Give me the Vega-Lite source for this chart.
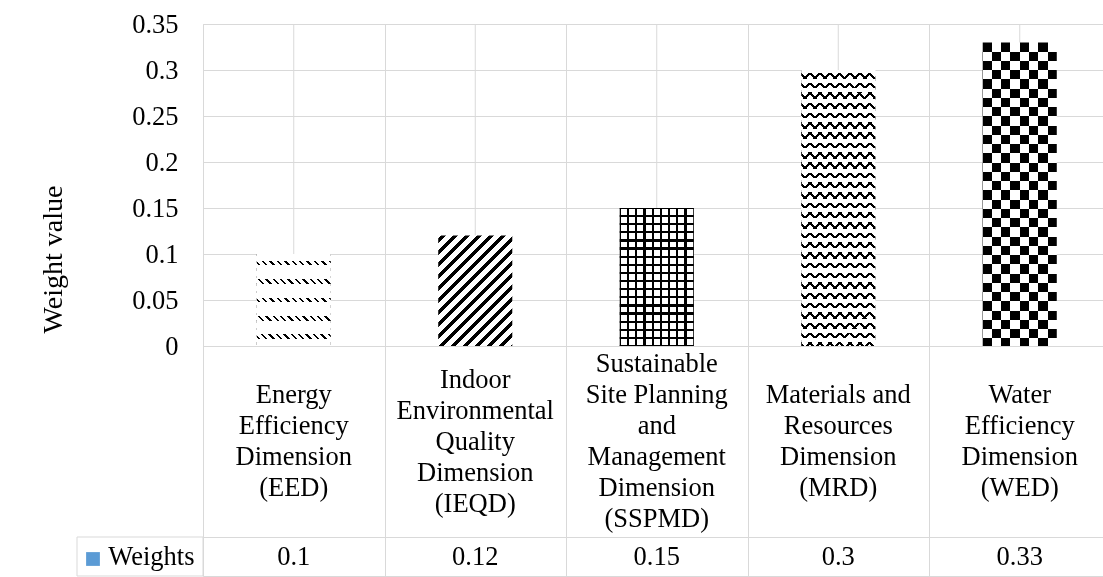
{
  "$schema": "https://vega.github.io/schema/vega-lite/v6.json",
  "background": "white",
  "padding": {"left": 39, "top": 10, "right": 0, "bottom": 2},
  "datasets": {
    "dims": [
      {"code": "EED", "label": "Energy\nEfficiency\nDimension\n(EED)", "weight": 0.1, "series": "Weights"},
      {"code": "IEQD", "label": "Indoor\nEnvironmental\nQuality\nDimension\n(IEQD)", "weight": 0.12, "series": "Weights"},
      {"code": "SSPMD", "label": "Sustainable\nSite Planning\nand\nManagement\nDimension\n(SSPMD)", "weight": 0.15, "series": "Weights"},
      {"code": "MRD", "label": "Materials and\nResources\nDimension\n(MRD)", "weight": 0.3, "series": "Weights"},
      {"code": "WED", "label": "Water\nEfficiency\nDimension\n(WED)", "weight": 0.33, "series": "Weights"}
    ],
    "legend": [{"series": "Weights"}]
  },
  "columns": 2,
  "spacing": 0,
  "bounds": "flush",
  "concat": [
    {
      "data": {"name": "legend"},
      "width": 126, "height": 5,
      "view": {"stroke": null},
      "mark": {"type": "point", "opacity": 0},
      "encoding": {}
    },
    {
      "data": {"name": "dims"},
      "width": 907.5, "height": 322,
      "encoding": {
        "x": {"field": "code", "type": "nominal", "sort": null,
          "scale": {"paddingInner": 0, "paddingOuter": 0},
          "axis": {"title": null, "labels": false, "ticks": false, "domain": true, "grid": true, "tickBand": "extent"}}
      },
      "layer": [
        {"mark": {"type": "rule", "color": "#d9d9d9", "strokeWidth": 1}, "encoding": {}},
        {
          "transform": [{"filter": "datum.code === 'EED'"}],
          "mark": {"type": "bar", "width": {"band": 0.408}, "stroke": null,
            "fill": {"gradient": "linear", "x1": 0, "y1": 1, "x2": 1, "y2": -0.2432, "stops": [
              {"offset": 0.0050, "color": "#fff"}, {"offset": 0.0050, "color": "#000"}, {"offset": 0.0175, "color": "#000"}, {"offset": 0.0175, "color": "#fff"},
              {"offset": 0.0443, "color": "#fff"}, {"offset": 0.0443, "color": "#000"}, {"offset": 0.0568, "color": "#000"}, {"offset": 0.0568, "color": "#fff"},
              {"offset": 0.0836, "color": "#fff"}, {"offset": 0.0836, "color": "#000"}, {"offset": 0.0961, "color": "#000"}, {"offset": 0.0961, "color": "#fff"},
              {"offset": 0.1228, "color": "#fff"}, {"offset": 0.1228, "color": "#000"}, {"offset": 0.1353, "color": "#000"}, {"offset": 0.1353, "color": "#fff"},
              {"offset": 0.1621, "color": "#fff"}, {"offset": 0.1621, "color": "#000"}, {"offset": 0.1746, "color": "#000"}, {"offset": 0.1746, "color": "#fff"},
              {"offset": 0.2014, "color": "#fff"}, {"offset": 0.2014, "color": "#000"}, {"offset": 0.2139, "color": "#000"}, {"offset": 0.2139, "color": "#fff"},
              {"offset": 0.2407, "color": "#fff"}, {"offset": 0.2407, "color": "#000"}, {"offset": 0.2532, "color": "#000"}, {"offset": 0.2532, "color": "#fff"},
              {"offset": 0.2800, "color": "#fff"}, {"offset": 0.2800, "color": "#000"}, {"offset": 0.2925, "color": "#000"}, {"offset": 0.2925, "color": "#fff"},
              {"offset": 0.3192, "color": "#fff"}, {"offset": 0.3192, "color": "#000"}, {"offset": 0.3317, "color": "#000"}, {"offset": 0.3317, "color": "#fff"},
              {"offset": 0.3585, "color": "#fff"}, {"offset": 0.3585, "color": "#000"}, {"offset": 0.3710, "color": "#000"}, {"offset": 0.3710, "color": "#fff"},
              {"offset": 0.3978, "color": "#fff"}, {"offset": 0.3978, "color": "#000"}, {"offset": 0.4103, "color": "#000"}, {"offset": 0.4103, "color": "#fff"},
              {"offset": 0.4371, "color": "#fff"}, {"offset": 0.4371, "color": "#000"}, {"offset": 0.4496, "color": "#000"}, {"offset": 0.4496, "color": "#fff"},
              {"offset": 0.4764, "color": "#fff"}, {"offset": 0.4764, "color": "#000"}, {"offset": 0.4889, "color": "#000"}, {"offset": 0.4889, "color": "#fff"},
              {"offset": 0.5156, "color": "#fff"}, {"offset": 0.5156, "color": "#000"}, {"offset": 0.5281, "color": "#000"}, {"offset": 0.5281, "color": "#fff"},
              {"offset": 0.5549, "color": "#fff"}, {"offset": 0.5549, "color": "#000"}, {"offset": 0.5674, "color": "#000"}, {"offset": 0.5674, "color": "#fff"},
              {"offset": 0.5942, "color": "#fff"}, {"offset": 0.5942, "color": "#000"}, {"offset": 0.6067, "color": "#000"}, {"offset": 0.6067, "color": "#fff"},
              {"offset": 0.6335, "color": "#fff"}, {"offset": 0.6335, "color": "#000"}, {"offset": 0.6460, "color": "#000"}, {"offset": 0.6460, "color": "#fff"},
              {"offset": 0.6728, "color": "#fff"}, {"offset": 0.6728, "color": "#000"}, {"offset": 0.6853, "color": "#000"}, {"offset": 0.6853, "color": "#fff"},
              {"offset": 0.7120, "color": "#fff"}, {"offset": 0.7120, "color": "#000"}, {"offset": 0.7245, "color": "#000"}, {"offset": 0.7245, "color": "#fff"},
              {"offset": 0.7513, "color": "#fff"}, {"offset": 0.7513, "color": "#000"}, {"offset": 0.7638, "color": "#000"}, {"offset": 0.7638, "color": "#fff"},
              {"offset": 0.7906, "color": "#fff"}, {"offset": 0.7906, "color": "#000"}, {"offset": 0.8031, "color": "#000"}, {"offset": 0.8031, "color": "#fff"},
              {"offset": 0.8299, "color": "#fff"}, {"offset": 0.8299, "color": "#000"}, {"offset": 0.8424, "color": "#000"}, {"offset": 0.8424, "color": "#fff"},
              {"offset": 0.8692, "color": "#fff"}, {"offset": 0.8692, "color": "#000"}, {"offset": 0.8817, "color": "#000"}, {"offset": 0.8817, "color": "#fff"}
            ]}},
          "encoding": {"y": {"field": "weight", "type": "quantitative", "title": "Weight value", "scale": {"domain": [0, 0.35]},
            "axis": {"values": [0, 0.05, 0.1, 0.15, 0.2, 0.25, 0.3, 0.35], "format": "~g", "grid": true, "domain": false, "ticks": false, "labelPadding": 25, "titlePadding": 64, "titleY": 235}}}
        },
        {
          "transform": [{"filter": "datum.code === 'EED'"}],
          "mark": {"type": "bar", "width": {"band": 0.408}, "stroke": null,
            "fill": {"gradient": "linear", "x1": 0, "y1": 0, "x2": 0, "y2": 1, "stops": [
              {"offset": 0.075, "color": "#fff"}, {"offset": 0.075, "color": "rgba(255,255,255,0)"}, {"offset": 0.125, "color": "rgba(255,255,255,0)"}, {"offset": 0.125, "color": "#fff"},
              {"offset": 0.275, "color": "#fff"}, {"offset": 0.275, "color": "rgba(255,255,255,0)"}, {"offset": 0.325, "color": "rgba(255,255,255,0)"}, {"offset": 0.325, "color": "#fff"},
              {"offset": 0.475, "color": "#fff"}, {"offset": 0.475, "color": "rgba(255,255,255,0)"}, {"offset": 0.525, "color": "rgba(255,255,255,0)"}, {"offset": 0.525, "color": "#fff"},
              {"offset": 0.675, "color": "#fff"}, {"offset": 0.675, "color": "rgba(255,255,255,0)"}, {"offset": 0.725, "color": "rgba(255,255,255,0)"}, {"offset": 0.725, "color": "#fff"},
              {"offset": 0.875, "color": "#fff"}, {"offset": 0.875, "color": "rgba(255,255,255,0)"}, {"offset": 0.925, "color": "rgba(255,255,255,0)"}, {"offset": 0.925, "color": "#fff"}
            ]}},
          "encoding": {"y": {"field": "weight", "type": "quantitative", "title": "Weight value", "scale": {"domain": [0, 0.35]},
            "axis": {"values": [0, 0.05, 0.1, 0.15, 0.2, 0.25, 0.3, 0.35], "format": "~g", "grid": true, "domain": false, "ticks": false, "labelPadding": 25, "titlePadding": 64, "titleY": 235}}}
        },
        {
          "transform": [{"filter": "datum.code === 'IEQD'"}],
          "mark": {"type": "bar", "width": {"band": 0.408}, "stroke": null,
            "fill": {"gradient": "linear", "x1": 0, "y1": 0, "x2": 1, "y2": 1.4919, "stops": [
              {"offset": 0.0100, "color": "#fff"}, {"offset": 0.0100, "color": "#000"}, {"offset": 0.0330, "color": "#000"}, {"offset": 0.0330, "color": "#fff"},
              {"offset": 0.0603, "color": "#fff"}, {"offset": 0.0603, "color": "#000"}, {"offset": 0.0833, "color": "#000"}, {"offset": 0.0833, "color": "#fff"},
              {"offset": 0.1105, "color": "#fff"}, {"offset": 0.1105, "color": "#000"}, {"offset": 0.1335, "color": "#000"}, {"offset": 0.1335, "color": "#fff"},
              {"offset": 0.1608, "color": "#fff"}, {"offset": 0.1608, "color": "#000"}, {"offset": 0.1838, "color": "#000"}, {"offset": 0.1838, "color": "#fff"},
              {"offset": 0.2111, "color": "#fff"}, {"offset": 0.2111, "color": "#000"}, {"offset": 0.2341, "color": "#000"}, {"offset": 0.2341, "color": "#fff"},
              {"offset": 0.2614, "color": "#fff"}, {"offset": 0.2614, "color": "#000"}, {"offset": 0.2844, "color": "#000"}, {"offset": 0.2844, "color": "#fff"},
              {"offset": 0.3116, "color": "#fff"}, {"offset": 0.3116, "color": "#000"}, {"offset": 0.3346, "color": "#000"}, {"offset": 0.3346, "color": "#fff"},
              {"offset": 0.3619, "color": "#fff"}, {"offset": 0.3619, "color": "#000"}, {"offset": 0.3849, "color": "#000"}, {"offset": 0.3849, "color": "#fff"},
              {"offset": 0.4122, "color": "#fff"}, {"offset": 0.4122, "color": "#000"}, {"offset": 0.4352, "color": "#000"}, {"offset": 0.4352, "color": "#fff"},
              {"offset": 0.4624, "color": "#fff"}, {"offset": 0.4624, "color": "#000"}, {"offset": 0.4854, "color": "#000"}, {"offset": 0.4854, "color": "#fff"},
              {"offset": 0.5127, "color": "#fff"}, {"offset": 0.5127, "color": "#000"}, {"offset": 0.5357, "color": "#000"}, {"offset": 0.5357, "color": "#fff"},
              {"offset": 0.5630, "color": "#fff"}, {"offset": 0.5630, "color": "#000"}, {"offset": 0.5860, "color": "#000"}, {"offset": 0.5860, "color": "#fff"},
              {"offset": 0.6132, "color": "#fff"}, {"offset": 0.6132, "color": "#000"}, {"offset": 0.6362, "color": "#000"}, {"offset": 0.6362, "color": "#fff"},
              {"offset": 0.6635, "color": "#fff"}, {"offset": 0.6635, "color": "#000"}, {"offset": 0.6865, "color": "#000"}, {"offset": 0.6865, "color": "#fff"},
              {"offset": 0.7138, "color": "#fff"}, {"offset": 0.7138, "color": "#000"}, {"offset": 0.7368, "color": "#000"}, {"offset": 0.7368, "color": "#fff"},
              {"offset": 0.7641, "color": "#fff"}, {"offset": 0.7641, "color": "#000"}, {"offset": 0.7871, "color": "#000"}, {"offset": 0.7871, "color": "#fff"}
            ]}},
          "encoding": {"y": {"field": "weight", "type": "quantitative", "title": "Weight value", "scale": {"domain": [0, 0.35]},
            "axis": {"values": [0, 0.05, 0.1, 0.15, 0.2, 0.25, 0.3, 0.35], "format": "~g", "grid": true, "domain": false, "ticks": false, "labelPadding": 25, "titlePadding": 64, "titleY": 235}}}
        },
        {
          "transform": [{"filter": "datum.code === 'SSPMD'"}],
          "mark": {"type": "bar", "width": {"band": 0.408}, "stroke": null,
            "fill": {"gradient": "linear", "x1": 0, "y1": 0, "x2": 1, "y2": 0, "stops": [
              {"offset": 0, "color": "#000"}, {"offset": 0.015, "color": "#000"}, {"offset": 0.015, "color": "#fff"},
              {"offset": 0.0961, "color": "#fff"}, {"offset": 0.0961, "color": "#000"}, {"offset": 0.1261, "color": "#000"}, {"offset": 0.1261, "color": "#fff"},
              {"offset": 0.2072, "color": "#fff"}, {"offset": 0.2072, "color": "#000"}, {"offset": 0.2372, "color": "#000"}, {"offset": 0.2372, "color": "#fff"},
              {"offset": 0.3183, "color": "#fff"}, {"offset": 0.3183, "color": "#000"}, {"offset": 0.3483, "color": "#000"}, {"offset": 0.3483, "color": "#fff"},
              {"offset": 0.4294, "color": "#fff"}, {"offset": 0.4294, "color": "#000"}, {"offset": 0.4594, "color": "#000"}, {"offset": 0.4594, "color": "#fff"},
              {"offset": 0.5406, "color": "#fff"}, {"offset": 0.5406, "color": "#000"}, {"offset": 0.5706, "color": "#000"}, {"offset": 0.5706, "color": "#fff"},
              {"offset": 0.6517, "color": "#fff"}, {"offset": 0.6517, "color": "#000"}, {"offset": 0.6817, "color": "#000"}, {"offset": 0.6817, "color": "#fff"},
              {"offset": 0.7628, "color": "#fff"}, {"offset": 0.7628, "color": "#000"}, {"offset": 0.7928, "color": "#000"}, {"offset": 0.7928, "color": "#fff"},
              {"offset": 0.8739, "color": "#fff"}, {"offset": 0.8739, "color": "#000"}, {"offset": 0.9039, "color": "#000"}, {"offset": 0.9039, "color": "#fff"},
              {"offset": 0.985, "color": "#fff"}, {"offset": 0.985, "color": "#000"}, {"offset": 1, "color": "#000"}
            ]}},
          "encoding": {"y": {"field": "weight", "type": "quantitative", "title": "Weight value", "scale": {"domain": [0, 0.35]},
            "axis": {"values": [0, 0.05, 0.1, 0.15, 0.2, 0.25, 0.3, 0.35], "format": "~g", "grid": true, "domain": false, "ticks": false, "labelPadding": 25, "titlePadding": 64, "titleY": 235}}}
        },
        {
          "transform": [{"filter": "datum.code === 'SSPMD'"}],
          "mark": {"type": "bar", "width": {"band": 0.408}, "stroke": null,
            "fill": {"gradient": "linear", "x1": 0, "y1": 0, "x2": 0, "y2": 1, "stops": [
              {"offset": 0, "color": "#000"}, {"offset": 0.008, "color": "#000"}, {"offset": 0.008, "color": "rgba(0,0,0,0)"},
              {"offset": 0.0508, "color": "rgba(0,0,0,0)"}, {"offset": 0.0508, "color": "#000"}, {"offset": 0.0668, "color": "#000"}, {"offset": 0.0668, "color": "rgba(0,0,0,0)"},
              {"offset": 0.1096, "color": "rgba(0,0,0,0)"}, {"offset": 0.1096, "color": "#000"}, {"offset": 0.1256, "color": "#000"}, {"offset": 0.1256, "color": "rgba(0,0,0,0)"},
              {"offset": 0.1685, "color": "rgba(0,0,0,0)"}, {"offset": 0.1685, "color": "#000"}, {"offset": 0.1845, "color": "#000"}, {"offset": 0.1845, "color": "rgba(0,0,0,0)"},
              {"offset": 0.2273, "color": "rgba(0,0,0,0)"}, {"offset": 0.2273, "color": "#000"}, {"offset": 0.2433, "color": "#000"}, {"offset": 0.2433, "color": "rgba(0,0,0,0)"},
              {"offset": 0.2861, "color": "rgba(0,0,0,0)"}, {"offset": 0.2861, "color": "#000"}, {"offset": 0.3021, "color": "#000"}, {"offset": 0.3021, "color": "rgba(0,0,0,0)"},
              {"offset": 0.3449, "color": "rgba(0,0,0,0)"}, {"offset": 0.3449, "color": "#000"}, {"offset": 0.3609, "color": "#000"}, {"offset": 0.3609, "color": "rgba(0,0,0,0)"},
              {"offset": 0.4038, "color": "rgba(0,0,0,0)"}, {"offset": 0.4038, "color": "#000"}, {"offset": 0.4198, "color": "#000"}, {"offset": 0.4198, "color": "rgba(0,0,0,0)"},
              {"offset": 0.4626, "color": "rgba(0,0,0,0)"}, {"offset": 0.4626, "color": "#000"}, {"offset": 0.4786, "color": "#000"}, {"offset": 0.4786, "color": "rgba(0,0,0,0)"},
              {"offset": 0.5214, "color": "rgba(0,0,0,0)"}, {"offset": 0.5214, "color": "#000"}, {"offset": 0.5374, "color": "#000"}, {"offset": 0.5374, "color": "rgba(0,0,0,0)"},
              {"offset": 0.5802, "color": "rgba(0,0,0,0)"}, {"offset": 0.5802, "color": "#000"}, {"offset": 0.5962, "color": "#000"}, {"offset": 0.5962, "color": "rgba(0,0,0,0)"},
              {"offset": 0.6391, "color": "rgba(0,0,0,0)"}, {"offset": 0.6391, "color": "#000"}, {"offset": 0.6551, "color": "#000"}, {"offset": 0.6551, "color": "rgba(0,0,0,0)"},
              {"offset": 0.6979, "color": "rgba(0,0,0,0)"}, {"offset": 0.6979, "color": "#000"}, {"offset": 0.7139, "color": "#000"}, {"offset": 0.7139, "color": "rgba(0,0,0,0)"},
              {"offset": 0.7567, "color": "rgba(0,0,0,0)"}, {"offset": 0.7567, "color": "#000"}, {"offset": 0.7727, "color": "#000"}, {"offset": 0.7727, "color": "rgba(0,0,0,0)"},
              {"offset": 0.8155, "color": "rgba(0,0,0,0)"}, {"offset": 0.8155, "color": "#000"}, {"offset": 0.8315, "color": "#000"}, {"offset": 0.8315, "color": "rgba(0,0,0,0)"},
              {"offset": 0.8744, "color": "rgba(0,0,0,0)"}, {"offset": 0.8744, "color": "#000"}, {"offset": 0.8904, "color": "#000"}, {"offset": 0.8904, "color": "rgba(0,0,0,0)"},
              {"offset": 0.9332, "color": "rgba(0,0,0,0)"}, {"offset": 0.9332, "color": "#000"}, {"offset": 0.9492, "color": "#000"}, {"offset": 0.9492, "color": "rgba(0,0,0,0)"},
              {"offset": 0.992, "color": "rgba(0,0,0,0)"}, {"offset": 0.992, "color": "#000"}, {"offset": 1, "color": "#000"}
            ]}},
          "encoding": {"y": {"field": "weight", "type": "quantitative", "title": "Weight value", "scale": {"domain": [0, 0.35]},
            "axis": {"values": [0, 0.05, 0.1, 0.15, 0.2, 0.25, 0.3, 0.35], "format": "~g", "grid": true, "domain": false, "ticks": false, "labelPadding": 25, "titlePadding": 64, "titleY": 235}}}
        },
        {
          "transform": [{"filter": "datum.code === 'MRD'"}],
          "mark": {"type": "bar", "width": {"band": 0.408}, "stroke": null,
            "fill": {"gradient": "linear", "x1": 0, "y1": 0, "x2": 1, "y2": 3.7272, "stops": [
              {"offset": 0, "color": "#000"}, {"offset": 0.0027, "color": "#000"}, {"offset": 0.0027, "color": "#fff"},
              {"offset": 0.0091, "color": "#fff"}, {"offset": 0.0091, "color": "#000"}, {"offset": 0.0118, "color": "#000"}, {"offset": 0.0118, "color": "#fff"},
              {"offset": 0.0181, "color": "#fff"}, {"offset": 0.0181, "color": "#000"}, {"offset": 0.0208, "color": "#000"}, {"offset": 0.0208, "color": "#fff"},
              {"offset": 0.0272, "color": "#fff"}, {"offset": 0.0272, "color": "#000"}, {"offset": 0.0299, "color": "#000"}, {"offset": 0.0299, "color": "#fff"},
              {"offset": 0.0363, "color": "#fff"}, {"offset": 0.0363, "color": "#000"}, {"offset": 0.0390, "color": "#000"}, {"offset": 0.0390, "color": "#fff"},
              {"offset": 0.0453, "color": "#fff"}, {"offset": 0.0453, "color": "#000"}, {"offset": 0.0480, "color": "#000"}, {"offset": 0.0480, "color": "#fff"},
              {"offset": 0.0544, "color": "#fff"}, {"offset": 0.0544, "color": "#000"}, {"offset": 0.0571, "color": "#000"}, {"offset": 0.0571, "color": "#fff"},
              {"offset": 0.0634, "color": "#fff"}, {"offset": 0.0634, "color": "#000"}, {"offset": 0.0661, "color": "#000"}, {"offset": 0.0661, "color": "#fff"},
              {"offset": 0.0725, "color": "#fff"}, {"offset": 0.0725, "color": "#000"}, {"offset": 0.0752, "color": "#000"}, {"offset": 0.0752, "color": "#fff"},
              {"offset": 0.0816, "color": "#fff"}, {"offset": 0.0816, "color": "#000"}, {"offset": 0.0843, "color": "#000"}, {"offset": 0.0843, "color": "#fff"},
              {"offset": 0.0906, "color": "#fff"}, {"offset": 0.0906, "color": "#000"}, {"offset": 0.0933, "color": "#000"}, {"offset": 0.0933, "color": "#fff"},
              {"offset": 0.0997, "color": "#fff"}, {"offset": 0.0997, "color": "#000"}, {"offset": 0.1024, "color": "#000"}, {"offset": 0.1024, "color": "#fff"},
              {"offset": 0.1088, "color": "#fff"}, {"offset": 0.1088, "color": "#000"}, {"offset": 0.1115, "color": "#000"}, {"offset": 0.1115, "color": "#fff"},
              {"offset": 0.1178, "color": "#fff"}, {"offset": 0.1178, "color": "#000"}, {"offset": 0.1205, "color": "#000"}, {"offset": 0.1205, "color": "#fff"},
              {"offset": 0.1269, "color": "#fff"}, {"offset": 0.1269, "color": "#000"}, {"offset": 0.1296, "color": "#000"}, {"offset": 0.1296, "color": "#fff"},
              {"offset": 0.1359, "color": "#fff"}, {"offset": 0.1359, "color": "#000"}, {"offset": 0.1386, "color": "#000"}, {"offset": 0.1386, "color": "#fff"},
              {"offset": 0.1450, "color": "#fff"}, {"offset": 0.1450, "color": "#000"}, {"offset": 0.1477, "color": "#000"}, {"offset": 0.1477, "color": "#fff"},
              {"offset": 0.1541, "color": "#fff"}, {"offset": 0.1541, "color": "#000"}, {"offset": 0.1568, "color": "#000"}, {"offset": 0.1568, "color": "#fff"},
              {"offset": 0.1631, "color": "#fff"}, {"offset": 0.1631, "color": "#000"}, {"offset": 0.1658, "color": "#000"}, {"offset": 0.1658, "color": "#fff"},
              {"offset": 0.1722, "color": "#fff"}, {"offset": 0.1722, "color": "#000"}, {"offset": 0.1749, "color": "#000"}, {"offset": 0.1749, "color": "#fff"},
              {"offset": 0.1813, "color": "#fff"}, {"offset": 0.1813, "color": "#000"}, {"offset": 0.1840, "color": "#000"}, {"offset": 0.1840, "color": "#fff"},
              {"offset": 0.1903, "color": "#fff"}, {"offset": 0.1903, "color": "#000"}, {"offset": 0.1930, "color": "#000"}, {"offset": 0.1930, "color": "#fff"},
              {"offset": 0.1994, "color": "#fff"}, {"offset": 0.1994, "color": "#000"}, {"offset": 0.2021, "color": "#000"}, {"offset": 0.2021, "color": "#fff"},
              {"offset": 0.2084, "color": "#fff"}, {"offset": 0.2084, "color": "#000"}, {"offset": 0.2111, "color": "#000"}, {"offset": 0.2111, "color": "#fff"},
              {"offset": 0.2175, "color": "#fff"}, {"offset": 0.2175, "color": "#000"}, {"offset": 0.2202, "color": "#000"}, {"offset": 0.2202, "color": "#fff"},
              {"offset": 0.2266, "color": "#fff"}, {"offset": 0.2266, "color": "#000"}, {"offset": 0.2293, "color": "#000"}, {"offset": 0.2293, "color": "#fff"},
              {"offset": 0.2356, "color": "#fff"}, {"offset": 0.2356, "color": "#000"}, {"offset": 0.2383, "color": "#000"}, {"offset": 0.2383, "color": "#fff"},
              {"offset": 0.2447, "color": "#fff"}, {"offset": 0.2447, "color": "#000"}, {"offset": 0.2474, "color": "#000"}, {"offset": 0.2474, "color": "#fff"},
              {"offset": 0.2538, "color": "#fff"}, {"offset": 0.2538, "color": "#000"}, {"offset": 0.2565, "color": "#000"}, {"offset": 0.2565, "color": "#fff"},
              {"offset": 0.2628, "color": "#fff"}, {"offset": 0.2628, "color": "#000"}, {"offset": 0.2655, "color": "#000"}, {"offset": 0.2655, "color": "#fff"},
              {"offset": 0.2719, "color": "#fff"}, {"offset": 0.2719, "color": "#000"}, {"offset": 0.2746, "color": "#000"}, {"offset": 0.2746, "color": "#fff"},
              {"offset": 0.2809, "color": "#fff"}, {"offset": 0.2809, "color": "#000"}, {"offset": 0.2836, "color": "#000"}, {"offset": 0.2836, "color": "#fff"},
              {"offset": 0.2900, "color": "#fff"}, {"offset": 0.2900, "color": "#000"}, {"offset": 0.2927, "color": "#000"}, {"offset": 0.2927, "color": "#fff"},
              {"offset": 0.2991, "color": "#fff"}, {"offset": 0.2991, "color": "#000"}, {"offset": 0.3018, "color": "#000"}, {"offset": 0.3018, "color": "#fff"},
              {"offset": 0.3081, "color": "#fff"}, {"offset": 0.3081, "color": "#000"}, {"offset": 0.3108, "color": "#000"}, {"offset": 0.3108, "color": "#fff"},
              {"offset": 0.3172, "color": "#fff"}, {"offset": 0.3172, "color": "#000"}, {"offset": 0.3199, "color": "#000"}, {"offset": 0.3199, "color": "#fff"}
            ]}},
          "encoding": {"y": {"field": "weight", "type": "quantitative", "title": "Weight value", "scale": {"domain": [0, 0.35]},
            "axis": {"values": [0, 0.05, 0.1, 0.15, 0.2, 0.25, 0.3, 0.35], "format": "~g", "grid": true, "domain": false, "ticks": false, "labelPadding": 25, "titlePadding": 64, "titleY": 235}}}
        },
        {
          "transform": [{"filter": "datum.code === 'MRD'"}],
          "mark": {"type": "bar", "width": {"band": 0.408}, "stroke": null,
            "fill": {"gradient": "linear", "x1": 0, "y1": 1, "x2": 1, "y2": -2.7272, "stops": [
              {"offset": 0, "color": "#000"}, {"offset": 0.0027, "color": "#000"}, {"offset": 0.0027, "color": "rgba(0,0,0,0)"},
              {"offset": 0.0091, "color": "rgba(0,0,0,0)"}, {"offset": 0.0091, "color": "#000"}, {"offset": 0.0118, "color": "#000"}, {"offset": 0.0118, "color": "rgba(0,0,0,0)"},
              {"offset": 0.0181, "color": "rgba(0,0,0,0)"}, {"offset": 0.0181, "color": "#000"}, {"offset": 0.0208, "color": "#000"}, {"offset": 0.0208, "color": "rgba(0,0,0,0)"},
              {"offset": 0.0272, "color": "rgba(0,0,0,0)"}, {"offset": 0.0272, "color": "#000"}, {"offset": 0.0299, "color": "#000"}, {"offset": 0.0299, "color": "rgba(0,0,0,0)"},
              {"offset": 0.0363, "color": "rgba(0,0,0,0)"}, {"offset": 0.0363, "color": "#000"}, {"offset": 0.0390, "color": "#000"}, {"offset": 0.0390, "color": "rgba(0,0,0,0)"},
              {"offset": 0.0453, "color": "rgba(0,0,0,0)"}, {"offset": 0.0453, "color": "#000"}, {"offset": 0.0480, "color": "#000"}, {"offset": 0.0480, "color": "rgba(0,0,0,0)"},
              {"offset": 0.0544, "color": "rgba(0,0,0,0)"}, {"offset": 0.0544, "color": "#000"}, {"offset": 0.0571, "color": "#000"}, {"offset": 0.0571, "color": "rgba(0,0,0,0)"},
              {"offset": 0.0634, "color": "rgba(0,0,0,0)"}, {"offset": 0.0634, "color": "#000"}, {"offset": 0.0661, "color": "#000"}, {"offset": 0.0661, "color": "rgba(0,0,0,0)"},
              {"offset": 0.0725, "color": "rgba(0,0,0,0)"}, {"offset": 0.0725, "color": "#000"}, {"offset": 0.0752, "color": "#000"}, {"offset": 0.0752, "color": "rgba(0,0,0,0)"},
              {"offset": 0.0816, "color": "rgba(0,0,0,0)"}, {"offset": 0.0816, "color": "#000"}, {"offset": 0.0843, "color": "#000"}, {"offset": 0.0843, "color": "rgba(0,0,0,0)"},
              {"offset": 0.0906, "color": "rgba(0,0,0,0)"}, {"offset": 0.0906, "color": "#000"}, {"offset": 0.0933, "color": "#000"}, {"offset": 0.0933, "color": "rgba(0,0,0,0)"},
              {"offset": 0.0997, "color": "rgba(0,0,0,0)"}, {"offset": 0.0997, "color": "#000"}, {"offset": 0.1024, "color": "#000"}, {"offset": 0.1024, "color": "rgba(0,0,0,0)"},
              {"offset": 0.1088, "color": "rgba(0,0,0,0)"}, {"offset": 0.1088, "color": "#000"}, {"offset": 0.1115, "color": "#000"}, {"offset": 0.1115, "color": "rgba(0,0,0,0)"},
              {"offset": 0.1178, "color": "rgba(0,0,0,0)"}, {"offset": 0.1178, "color": "#000"}, {"offset": 0.1205, "color": "#000"}, {"offset": 0.1205, "color": "rgba(0,0,0,0)"},
              {"offset": 0.1269, "color": "rgba(0,0,0,0)"}, {"offset": 0.1269, "color": "#000"}, {"offset": 0.1296, "color": "#000"}, {"offset": 0.1296, "color": "rgba(0,0,0,0)"},
              {"offset": 0.1359, "color": "rgba(0,0,0,0)"}, {"offset": 0.1359, "color": "#000"}, {"offset": 0.1386, "color": "#000"}, {"offset": 0.1386, "color": "rgba(0,0,0,0)"},
              {"offset": 0.1450, "color": "rgba(0,0,0,0)"}, {"offset": 0.1450, "color": "#000"}, {"offset": 0.1477, "color": "#000"}, {"offset": 0.1477, "color": "rgba(0,0,0,0)"},
              {"offset": 0.1541, "color": "rgba(0,0,0,0)"}, {"offset": 0.1541, "color": "#000"}, {"offset": 0.1568, "color": "#000"}, {"offset": 0.1568, "color": "rgba(0,0,0,0)"},
              {"offset": 0.1631, "color": "rgba(0,0,0,0)"}, {"offset": 0.1631, "color": "#000"}, {"offset": 0.1658, "color": "#000"}, {"offset": 0.1658, "color": "rgba(0,0,0,0)"},
              {"offset": 0.1722, "color": "rgba(0,0,0,0)"}, {"offset": 0.1722, "color": "#000"}, {"offset": 0.1749, "color": "#000"}, {"offset": 0.1749, "color": "rgba(0,0,0,0)"},
              {"offset": 0.1813, "color": "rgba(0,0,0,0)"}, {"offset": 0.1813, "color": "#000"}, {"offset": 0.1840, "color": "#000"}, {"offset": 0.1840, "color": "rgba(0,0,0,0)"},
              {"offset": 0.1903, "color": "rgba(0,0,0,0)"}, {"offset": 0.1903, "color": "#000"}, {"offset": 0.1930, "color": "#000"}, {"offset": 0.1930, "color": "rgba(0,0,0,0)"},
              {"offset": 0.1994, "color": "rgba(0,0,0,0)"}, {"offset": 0.1994, "color": "#000"}, {"offset": 0.2021, "color": "#000"}, {"offset": 0.2021, "color": "rgba(0,0,0,0)"},
              {"offset": 0.2084, "color": "rgba(0,0,0,0)"}, {"offset": 0.2084, "color": "#000"}, {"offset": 0.2111, "color": "#000"}, {"offset": 0.2111, "color": "rgba(0,0,0,0)"},
              {"offset": 0.2175, "color": "rgba(0,0,0,0)"}, {"offset": 0.2175, "color": "#000"}, {"offset": 0.2202, "color": "#000"}, {"offset": 0.2202, "color": "rgba(0,0,0,0)"},
              {"offset": 0.2266, "color": "rgba(0,0,0,0)"}, {"offset": 0.2266, "color": "#000"}, {"offset": 0.2293, "color": "#000"}, {"offset": 0.2293, "color": "rgba(0,0,0,0)"},
              {"offset": 0.2356, "color": "rgba(0,0,0,0)"}, {"offset": 0.2356, "color": "#000"}, {"offset": 0.2383, "color": "#000"}, {"offset": 0.2383, "color": "rgba(0,0,0,0)"},
              {"offset": 0.2447, "color": "rgba(0,0,0,0)"}, {"offset": 0.2447, "color": "#000"}, {"offset": 0.2474, "color": "#000"}, {"offset": 0.2474, "color": "rgba(0,0,0,0)"},
              {"offset": 0.2538, "color": "rgba(0,0,0,0)"}, {"offset": 0.2538, "color": "#000"}, {"offset": 0.2565, "color": "#000"}, {"offset": 0.2565, "color": "rgba(0,0,0,0)"},
              {"offset": 0.2628, "color": "rgba(0,0,0,0)"}, {"offset": 0.2628, "color": "#000"}, {"offset": 0.2655, "color": "#000"}, {"offset": 0.2655, "color": "rgba(0,0,0,0)"},
              {"offset": 0.2719, "color": "rgba(0,0,0,0)"}, {"offset": 0.2719, "color": "#000"}, {"offset": 0.2746, "color": "#000"}, {"offset": 0.2746, "color": "rgba(0,0,0,0)"},
              {"offset": 0.2809, "color": "rgba(0,0,0,0)"}, {"offset": 0.2809, "color": "#000"}, {"offset": 0.2836, "color": "#000"}, {"offset": 0.2836, "color": "rgba(0,0,0,0)"},
              {"offset": 0.2900, "color": "rgba(0,0,0,0)"}, {"offset": 0.2900, "color": "#000"}, {"offset": 0.2927, "color": "#000"}, {"offset": 0.2927, "color": "rgba(0,0,0,0)"},
              {"offset": 0.2991, "color": "rgba(0,0,0,0)"}, {"offset": 0.2991, "color": "#000"}, {"offset": 0.3018, "color": "#000"}, {"offset": 0.3018, "color": "rgba(0,0,0,0)"},
              {"offset": 0.3081, "color": "rgba(0,0,0,0)"}, {"offset": 0.3081, "color": "#000"}, {"offset": 0.3108, "color": "#000"}, {"offset": 0.3108, "color": "rgba(0,0,0,0)"},
              {"offset": 0.3172, "color": "rgba(0,0,0,0)"}, {"offset": 0.3172, "color": "#000"}, {"offset": 0.3199, "color": "#000"}, {"offset": 0.3199, "color": "rgba(0,0,0,0)"}
            ]}},
          "encoding": {"y": {"field": "weight", "type": "quantitative", "title": "Weight value", "scale": {"domain": [0, 0.35]},
            "axis": {"values": [0, 0.05, 0.1, 0.15, 0.2, 0.25, 0.3, 0.35], "format": "~g", "grid": true, "domain": false, "ticks": false, "labelPadding": 25, "titlePadding": 64, "titleY": 235}}}
        },
        {
          "transform": [{"filter": "datum.code === 'MRD'"}],
          "mark": {"type": "bar", "width": {"band": 0.408}, "stroke": null,
            "fill": {"gradient": "linear", "x1": 0, "y1": 0, "x2": 0, "y2": 1, "stops": [
              {"offset": 0.0091, "color": "#fff"}, {"offset": 0.0091, "color": "rgba(255,255,255,0)"}, {"offset": 0.0308, "color": "rgba(255,255,255,0)"}, {"offset": 0.0308, "color": "#fff"},
              {"offset": 0.0453, "color": "#fff"}, {"offset": 0.0453, "color": "rgba(255,255,255,0)"}, {"offset": 0.0670, "color": "rgba(255,255,255,0)"}, {"offset": 0.0670, "color": "#fff"},
              {"offset": 0.0815, "color": "#fff"}, {"offset": 0.0815, "color": "rgba(255,255,255,0)"}, {"offset": 0.1033, "color": "rgba(255,255,255,0)"}, {"offset": 0.1033, "color": "#fff"},
              {"offset": 0.1178, "color": "#fff"}, {"offset": 0.1178, "color": "rgba(255,255,255,0)"}, {"offset": 0.1395, "color": "rgba(255,255,255,0)"}, {"offset": 0.1395, "color": "#fff"},
              {"offset": 0.1540, "color": "#fff"}, {"offset": 0.1540, "color": "rgba(255,255,255,0)"}, {"offset": 0.1757, "color": "rgba(255,255,255,0)"}, {"offset": 0.1757, "color": "#fff"},
              {"offset": 0.1902, "color": "#fff"}, {"offset": 0.1902, "color": "rgba(255,255,255,0)"}, {"offset": 0.2120, "color": "rgba(255,255,255,0)"}, {"offset": 0.2120, "color": "#fff"},
              {"offset": 0.2264, "color": "#fff"}, {"offset": 0.2264, "color": "rgba(255,255,255,0)"}, {"offset": 0.2482, "color": "rgba(255,255,255,0)"}, {"offset": 0.2482, "color": "#fff"},
              {"offset": 0.2627, "color": "#fff"}, {"offset": 0.2627, "color": "rgba(255,255,255,0)"}, {"offset": 0.2844, "color": "rgba(255,255,255,0)"}, {"offset": 0.2844, "color": "#fff"},
              {"offset": 0.2989, "color": "#fff"}, {"offset": 0.2989, "color": "rgba(255,255,255,0)"}, {"offset": 0.3207, "color": "rgba(255,255,255,0)"}, {"offset": 0.3207, "color": "#fff"},
              {"offset": 0.3351, "color": "#fff"}, {"offset": 0.3351, "color": "rgba(255,255,255,0)"}, {"offset": 0.3569, "color": "rgba(255,255,255,0)"}, {"offset": 0.3569, "color": "#fff"},
              {"offset": 0.3714, "color": "#fff"}, {"offset": 0.3714, "color": "rgba(255,255,255,0)"}, {"offset": 0.3931, "color": "rgba(255,255,255,0)"}, {"offset": 0.3931, "color": "#fff"},
              {"offset": 0.4076, "color": "#fff"}, {"offset": 0.4076, "color": "rgba(255,255,255,0)"}, {"offset": 0.4293, "color": "rgba(255,255,255,0)"}, {"offset": 0.4293, "color": "#fff"},
              {"offset": 0.4438, "color": "#fff"}, {"offset": 0.4438, "color": "rgba(255,255,255,0)"}, {"offset": 0.4656, "color": "rgba(255,255,255,0)"}, {"offset": 0.4656, "color": "#fff"},
              {"offset": 0.4801, "color": "#fff"}, {"offset": 0.4801, "color": "rgba(255,255,255,0)"}, {"offset": 0.5018, "color": "rgba(255,255,255,0)"}, {"offset": 0.5018, "color": "#fff"},
              {"offset": 0.5163, "color": "#fff"}, {"offset": 0.5163, "color": "rgba(255,255,255,0)"}, {"offset": 0.5380, "color": "rgba(255,255,255,0)"}, {"offset": 0.5380, "color": "#fff"},
              {"offset": 0.5525, "color": "#fff"}, {"offset": 0.5525, "color": "rgba(255,255,255,0)"}, {"offset": 0.5743, "color": "rgba(255,255,255,0)"}, {"offset": 0.5743, "color": "#fff"},
              {"offset": 0.5888, "color": "#fff"}, {"offset": 0.5888, "color": "rgba(255,255,255,0)"}, {"offset": 0.6105, "color": "rgba(255,255,255,0)"}, {"offset": 0.6105, "color": "#fff"},
              {"offset": 0.6250, "color": "#fff"}, {"offset": 0.6250, "color": "rgba(255,255,255,0)"}, {"offset": 0.6467, "color": "rgba(255,255,255,0)"}, {"offset": 0.6467, "color": "#fff"},
              {"offset": 0.6612, "color": "#fff"}, {"offset": 0.6612, "color": "rgba(255,255,255,0)"}, {"offset": 0.6830, "color": "rgba(255,255,255,0)"}, {"offset": 0.6830, "color": "#fff"},
              {"offset": 0.6975, "color": "#fff"}, {"offset": 0.6975, "color": "rgba(255,255,255,0)"}, {"offset": 0.7192, "color": "rgba(255,255,255,0)"}, {"offset": 0.7192, "color": "#fff"},
              {"offset": 0.7337, "color": "#fff"}, {"offset": 0.7337, "color": "rgba(255,255,255,0)"}, {"offset": 0.7554, "color": "rgba(255,255,255,0)"}, {"offset": 0.7554, "color": "#fff"},
              {"offset": 0.7699, "color": "#fff"}, {"offset": 0.7699, "color": "rgba(255,255,255,0)"}, {"offset": 0.7917, "color": "rgba(255,255,255,0)"}, {"offset": 0.7917, "color": "#fff"},
              {"offset": 0.8062, "color": "#fff"}, {"offset": 0.8062, "color": "rgba(255,255,255,0)"}, {"offset": 0.8279, "color": "rgba(255,255,255,0)"}, {"offset": 0.8279, "color": "#fff"},
              {"offset": 0.8424, "color": "#fff"}, {"offset": 0.8424, "color": "rgba(255,255,255,0)"}, {"offset": 0.8641, "color": "rgba(255,255,255,0)"}, {"offset": 0.8641, "color": "#fff"},
              {"offset": 0.8786, "color": "#fff"}, {"offset": 0.8786, "color": "rgba(255,255,255,0)"}, {"offset": 0.9004, "color": "rgba(255,255,255,0)"}, {"offset": 0.9004, "color": "#fff"},
              {"offset": 0.9149, "color": "#fff"}, {"offset": 0.9149, "color": "rgba(255,255,255,0)"}, {"offset": 0.9366, "color": "rgba(255,255,255,0)"}, {"offset": 0.9366, "color": "#fff"},
              {"offset": 0.9511, "color": "#fff"}, {"offset": 0.9511, "color": "rgba(255,255,255,0)"}, {"offset": 0.9728, "color": "rgba(255,255,255,0)"}, {"offset": 0.9728, "color": "#fff"},
              {"offset": 0.9873, "color": "#fff"}, {"offset": 0.9873, "color": "rgba(255,255,255,0)"}, {"offset": 1, "color": "rgba(255,255,255,0)"}
            ]}},
          "encoding": {"y": {"field": "weight", "type": "quantitative", "title": "Weight value", "scale": {"domain": [0, 0.35]},
            "axis": {"values": [0, 0.05, 0.1, 0.15, 0.2, 0.25, 0.3, 0.35], "format": "~g", "grid": true, "domain": false, "ticks": false, "labelPadding": 25, "titlePadding": 64, "titleY": 235}}}
        },
        {
          "transform": [{"filter": "datum.code === 'WED'"}],
          "mark": {"type": "bar", "width": {"band": 0.408}, "stroke": null,
            "fill": {"gradient": "linear", "x1": 0, "y1": 0, "x2": 1, "y2": 0, "stops": [
              {"offset": 0, "color": "#000"}, {"offset": 0.125, "color": "#000"}, {"offset": 0.125, "color": "#fff"},
              {"offset": 0.25, "color": "#fff"}, {"offset": 0.25, "color": "#000"}, {"offset": 0.375, "color": "#000"}, {"offset": 0.375, "color": "#fff"},
              {"offset": 0.5, "color": "#fff"}, {"offset": 0.5, "color": "#000"}, {"offset": 0.625, "color": "#000"}, {"offset": 0.625, "color": "#fff"},
              {"offset": 0.75, "color": "#fff"}, {"offset": 0.75, "color": "#000"}, {"offset": 0.875, "color": "#000"}, {"offset": 0.875, "color": "#fff"},
              {"offset": 1, "color": "#fff"}
            ]}},
          "encoding": {"y": {"field": "weight", "type": "quantitative", "title": "Weight value", "scale": {"domain": [0, 0.35]},
            "axis": {"values": [0, 0.05, 0.1, 0.15, 0.2, 0.25, 0.3, 0.35], "format": "~g", "grid": true, "domain": false, "ticks": false, "labelPadding": 25, "titlePadding": 64, "titleY": 235}}}
        },
        {
          "transform": [{"filter": "datum.code === 'WED'"}],
          "mark": {"type": "bar", "width": {"band": 0.408}, "stroke": null, "blend": "difference",
            "fill": {"gradient": "linear", "x1": 0, "y1": 0, "x2": 0, "y2": 1, "stops": [
              {"offset": 0.0305, "color": "rgba(255,255,255,0)"}, {"offset": 0.0305, "color": "#fff"}, {"offset": 0.0609, "color": "#fff"}, {"offset": 0.0609, "color": "rgba(255,255,255,0)"},
              {"offset": 0.0914, "color": "rgba(255,255,255,0)"}, {"offset": 0.0914, "color": "#fff"}, {"offset": 0.1219, "color": "#fff"}, {"offset": 0.1219, "color": "rgba(255,255,255,0)"},
              {"offset": 0.1523, "color": "rgba(255,255,255,0)"}, {"offset": 0.1523, "color": "#fff"}, {"offset": 0.1828, "color": "#fff"}, {"offset": 0.1828, "color": "rgba(255,255,255,0)"},
              {"offset": 0.2133, "color": "rgba(255,255,255,0)"}, {"offset": 0.2133, "color": "#fff"}, {"offset": 0.2438, "color": "#fff"}, {"offset": 0.2438, "color": "rgba(255,255,255,0)"},
              {"offset": 0.2742, "color": "rgba(255,255,255,0)"}, {"offset": 0.2742, "color": "#fff"}, {"offset": 0.3047, "color": "#fff"}, {"offset": 0.3047, "color": "rgba(255,255,255,0)"},
              {"offset": 0.3352, "color": "rgba(255,255,255,0)"}, {"offset": 0.3352, "color": "#fff"}, {"offset": 0.3656, "color": "#fff"}, {"offset": 0.3656, "color": "rgba(255,255,255,0)"},
              {"offset": 0.3961, "color": "rgba(255,255,255,0)"}, {"offset": 0.3961, "color": "#fff"}, {"offset": 0.4266, "color": "#fff"}, {"offset": 0.4266, "color": "rgba(255,255,255,0)"},
              {"offset": 0.4570, "color": "rgba(255,255,255,0)"}, {"offset": 0.4570, "color": "#fff"}, {"offset": 0.4875, "color": "#fff"}, {"offset": 0.4875, "color": "rgba(255,255,255,0)"},
              {"offset": 0.5180, "color": "rgba(255,255,255,0)"}, {"offset": 0.5180, "color": "#fff"}, {"offset": 0.5485, "color": "#fff"}, {"offset": 0.5485, "color": "rgba(255,255,255,0)"},
              {"offset": 0.5789, "color": "rgba(255,255,255,0)"}, {"offset": 0.5789, "color": "#fff"}, {"offset": 0.6094, "color": "#fff"}, {"offset": 0.6094, "color": "rgba(255,255,255,0)"},
              {"offset": 0.6399, "color": "rgba(255,255,255,0)"}, {"offset": 0.6399, "color": "#fff"}, {"offset": 0.6703, "color": "#fff"}, {"offset": 0.6703, "color": "rgba(255,255,255,0)"},
              {"offset": 0.7008, "color": "rgba(255,255,255,0)"}, {"offset": 0.7008, "color": "#fff"}, {"offset": 0.7313, "color": "#fff"}, {"offset": 0.7313, "color": "rgba(255,255,255,0)"},
              {"offset": 0.7618, "color": "rgba(255,255,255,0)"}, {"offset": 0.7618, "color": "#fff"}, {"offset": 0.7922, "color": "#fff"}, {"offset": 0.7922, "color": "rgba(255,255,255,0)"},
              {"offset": 0.8227, "color": "rgba(255,255,255,0)"}, {"offset": 0.8227, "color": "#fff"}, {"offset": 0.8532, "color": "#fff"}, {"offset": 0.8532, "color": "rgba(255,255,255,0)"},
              {"offset": 0.8836, "color": "rgba(255,255,255,0)"}, {"offset": 0.8836, "color": "#fff"}, {"offset": 0.9141, "color": "#fff"}, {"offset": 0.9141, "color": "rgba(255,255,255,0)"},
              {"offset": 0.9446, "color": "rgba(255,255,255,0)"}, {"offset": 0.9446, "color": "#fff"}, {"offset": 0.9750, "color": "#fff"}, {"offset": 0.9750, "color": "rgba(255,255,255,0)"}
            ]}},
          "encoding": {"y": {"field": "weight", "type": "quantitative", "title": "Weight value", "scale": {"domain": [0, 0.35]},
            "axis": {"values": [0, 0.05, 0.1, 0.15, 0.2, 0.25, 0.3, 0.35], "format": "~g", "grid": true, "domain": false, "ticks": false, "labelPadding": 25, "titlePadding": 64, "titleY": 235}}}
        }
      ]
    },
    {
      "data": {"name": "legend"},
      "width": 126, "height": 5,
      "view": {"stroke": null},
      "mark": {"type": "point", "opacity": 0},
      "encoding": {}
    },
    {
      "data": {"name": "dims"},
      "width": 907.5, "height": 191,
      "mark": {"type": "text", "lineBreak": "\n", "font": "Liberation Serif", "fontSize": 26.5, "lineHeight": 31, "baseline": "middle", "align": "center", "color": "#000",
        "dy": {"expr": "-15.5 * (length(split(datum.label, '\\n')) - 1)"}},
      "encoding": {
        "x": {"field": "code", "type": "nominal", "sort": null,
          "scale": {"paddingInner": 0, "paddingOuter": 0},
          "axis": {"title": null, "labels": false, "ticks": false, "domain": false, "grid": true, "tickBand": "extent"}},
        "text": {"field": "label", "type": "nominal"}
      }
    },
    {
      "data": {"name": "legend"},
      "width": 126, "height": 39,
      "layer": [
        {"mark": {"type": "rect", "fill": null, "stroke": "#d9d9d9", "strokeWidth": 1}, "encoding": {}},
        {"mark": {"type": "point", "shape": "square", "filled": true, "size": 190, "color": "#5b9bd5", "opacity": 1, "xOffset": -47, "yOffset": 2.5}, "encoding": {}}
      ]
    },
    {
      "data": {"name": "dims"},
      "width": 907.5, "height": 39,
      "mark": {"type": "text", "font": "Liberation Serif", "fontSize": 26.5, "baseline": "middle", "align": "center", "color": "#000"},
      "encoding": {
        "x": {"field": "code", "type": "nominal", "sort": null,
          "scale": {"paddingInner": 0, "paddingOuter": 0},
          "axis": {"title": null, "labels": false, "ticks": false, "domain": false, "grid": true, "tickBand": "extent"}},
        "y": {"field": "series", "type": "nominal",
          "scale": {"paddingInner": 0, "paddingOuter": 0},
          "axis": {"title": null, "ticks": false, "domain": false, "labelPadding": 9}},
        "text": {"field": "weight", "type": "nominal"}
      }
    }
  ],
  "config": {
    "view": {"stroke": "#d9d9d9"},
    "font": "Liberation Serif",
    "axis": {
      "labelFont": "Liberation Serif", "titleFont": "Liberation Serif",
      "labelColor": "#000", "titleColor": "#000", "titleFontWeight": "normal",
      "labelFontSize": 26.5, "titleFontSize": 28,
      "gridColor": "#d9d9d9", "domainColor": "#d9d9d9"
    }
  }
}
